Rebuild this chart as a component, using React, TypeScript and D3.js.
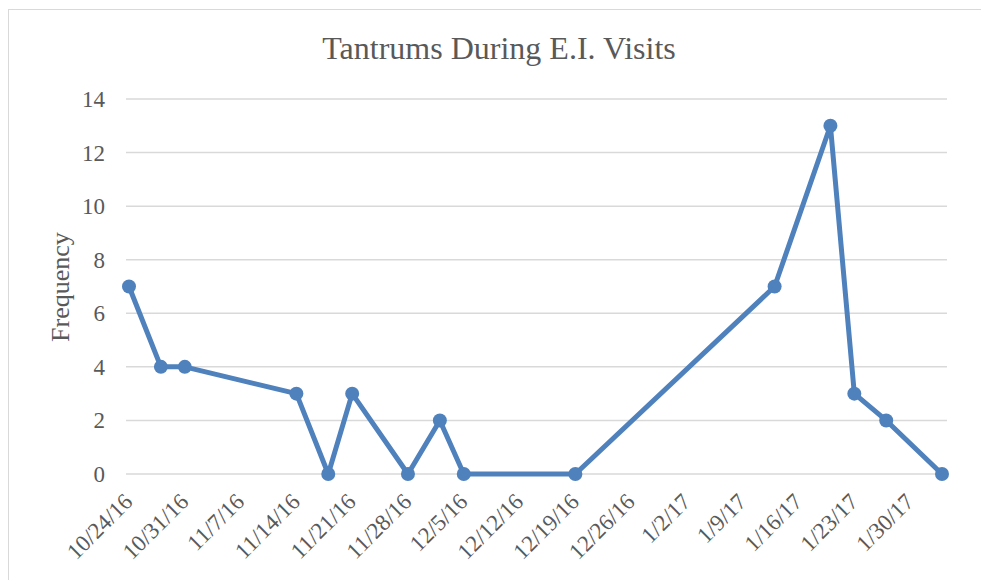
import React, { useEffect, useRef } from "react";
import * as d3 from "d3";

// visit dates and number of tantrums per visit
const visitDates = [
  "2016-10-24", "2016-10-28", "2016-10-31", "2016-11-14", "2016-11-18",
  "2016-11-21", "2016-11-28", "2016-12-02", "2016-12-05", "2016-12-19",
  "2017-01-13", "2017-01-20", "2017-01-23", "2017-01-27", "2017-02-03",
];
const tantrums = [7, 4, 4, 3, 0, 3, 0, 2, 0, 0, 7, 13, 3, 2, 0];
const yTicks = [0, 2, 4, 6, 8, 10, 12, 14];
const title = "Tantrums During E.I. Visits";
const yTitle = "Frequency";

const App = () => {
  const ref = useRef<SVGSVGElement>(null);

  useEffect(() => {
    const WIDTH = 981;
    const HEIGHT = 580;
    const FONT = "Liberation Serif, Times New Roman, serif";
    const TEXT = "#595959";
    const BLUE = "#4f81bd";

    const parse = d3.utcParse("%Y-%m-%d");
    const dates = visitDates.map((d) => parse(d) as Date);
    const data = dates.map((d, i) => ({ date: d, value: tantrums[i] }));

    const x = d3
      .scaleUtc()
      .domain([dates[0], dates[dates.length - 1]])
      .range([129, 942]);
    const y = d3.scaleLinear().domain([0, 14]).range([474, 99]);

    const svg = d3.select(ref.current);
    svg.selectAll("*").remove();
    svg.attr("width", WIDTH).attr("height", HEIGHT);

    svg
      .append("rect")
      .attr("width", WIDTH)
      .attr("height", HEIGHT)
      .attr("fill", "#fff");

    /* chart border */
    svg
      .append("rect")
      .attr("x", 8.5)
      .attr("y", 9.5)
      .attr("width", WIDTH)
      .attr("height", HEIGHT)
      .attr("fill", "none")
      .attr("stroke", "#d9d9d9");

    svg
      .append("text")
      .attr("x", 499)
      .attr("y", 59)
      .attr("text-anchor", "middle")
      .attr("font-family", FONT)
      .attr("font-size", 32)
      .attr("fill", TEXT)
      .text(title);

    /* gridlines + y labels */
    const grid = svg.append("g");
    yTicks.forEach((t) => {
      grid
        .append("line")
        .attr("x1", 126)
        .attr("x2", 947)
        .attr("y1", y(t))
        .attr("y2", y(t))
        .attr("stroke", "#d9d9d9")
        .attr("stroke-width", 1.5);
      grid
        .append("text")
        .attr("x", 105)
        .attr("y", y(t))
        .attr("dy", "0.35em")
        .attr("text-anchor", "end")
        .attr("font-family", FONT)
        .attr("font-size", 23)
        .attr("fill", TEXT)
        .text(t);
    });

    svg
      .append("text")
      .attr("transform", "translate(69,287) rotate(-90)")
      .attr("text-anchor", "middle")
      .attr("font-family", FONT)
      .attr("font-size", 26)
      .attr("fill", TEXT)
      .text(yTitle);

    /* x axis: weekly ticks */
    const weekly = d3.utcDay.range(dates[0], d3.utcDay.offset(dates[dates.length - 1], 1), 7);
    const fmt = (d: Date) =>
      `${d.getUTCMonth() + 1}/${d.getUTCDate()}/${String(d.getUTCFullYear()).slice(2)}`;
    svg
      .append("g")
      .selectAll("text")
      .data(weekly)
      .join("text")
      .attr("transform", (d) => `translate(${x(d) + 5},${503}) rotate(-45)`)
      .attr("text-anchor", "end")
      .attr("font-family", FONT)
      .attr("font-size", 23)
      .attr("fill", TEXT)
      .text(fmt);

    const line = d3
      .line<{ date: Date; value: number }>()
      .x((d) => x(d.date))
      .y((d) => y(d.value));

    svg
      .append("path")
      .datum(data)
      .attr("fill", "none")
      .attr("stroke", BLUE)
      .attr("stroke-width", 5)
      .attr("stroke-linejoin", "round")
      .attr("d", line);

    svg
      .append("g")
      .selectAll("circle")
      .data(data)
      .join("circle")
      .attr("cx", (d) => x(d.date))
      .attr("cy", (d) => y(d.value))
      .attr("r", 7)
      .attr("fill", BLUE);
  }, []);

  return (
    <svg
      ref={ref}
      style={{ position: "absolute", left: 0, top: 0, display: "block" }}
    />
  );
};

export default App;
